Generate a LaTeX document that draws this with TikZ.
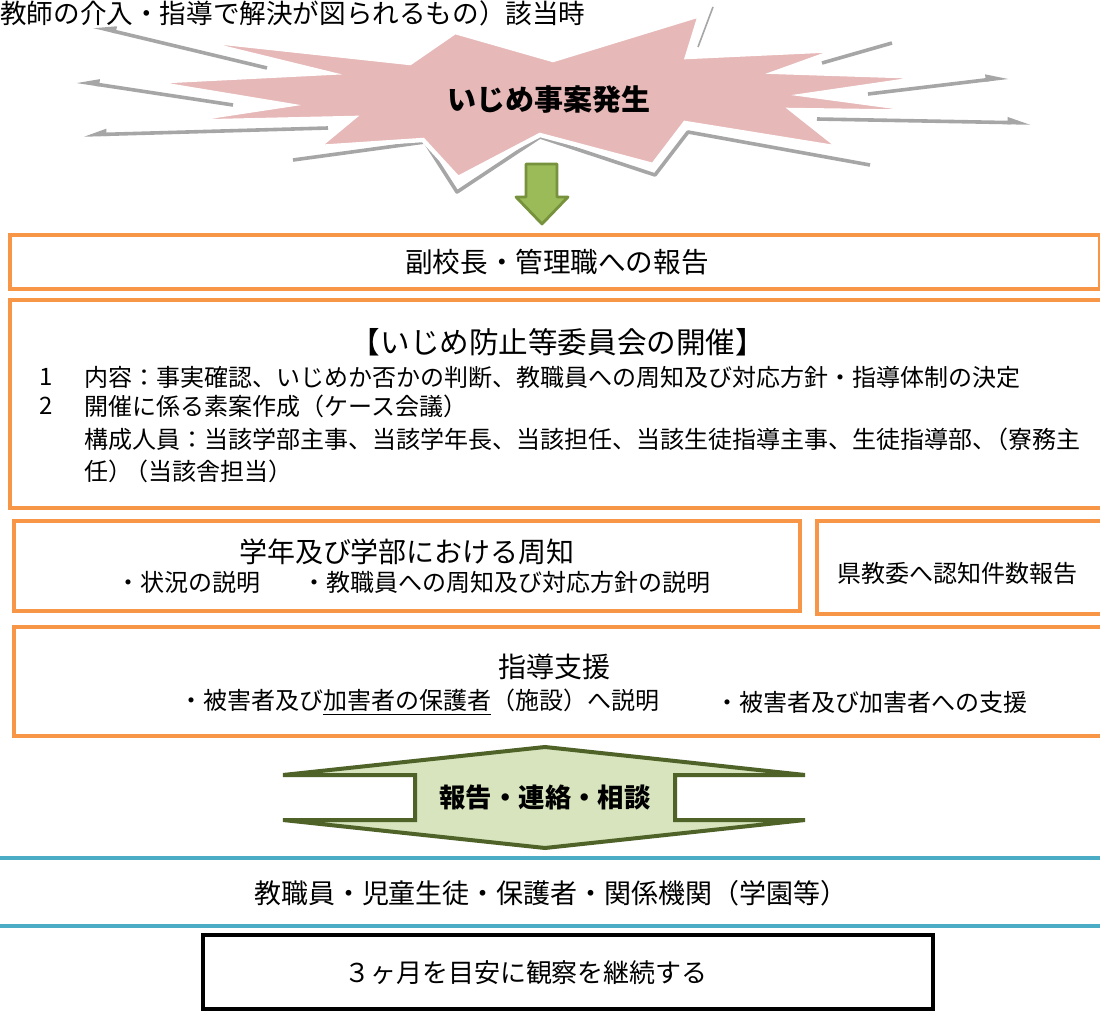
\documentclass[tikz,border=0pt]{standalone}
\usepackage{fontspec}
\setmainfont{Noto Sans CJK JP}
\usetikzlibrary{arrows.meta}
\definecolor{boxorange}{HTML}{F79646}
\definecolor{starpink}{HTML}{E6B8B7}
\definecolor{shadowgray}{HTML}{A6A6A6}
\definecolor{arrowgreen}{HTML}{9BBB59}
\definecolor{arrowedge}{HTML}{76923C}
\definecolor{talkfill}{HTML}{D7E4BD}
\definecolor{talkedge}{HTML}{4F6228}
\definecolor{bandblue}{HTML}{4BACC6}
\newcommand{\fsz}[1]{\fontsize{#1}{#1}\selectfont}

\begin{document}
\begin{tikzpicture}[x=0.5pt, y=-0.5pt,
	obox/.style={draw=boxorange, line width=2pt},
	txt/.style={inner sep=0pt, font=\fsz{12}},
	ttl/.style={inner sep=0pt, font=\fsz{14}},
	ray/.style={draw=shadowgray, line width=1.8pt},
	barbL/.style={-{Triangle[harpoon, swap, length=9pt, width=5pt]}},
	barbR/.style={-{Triangle[harpoon, length=9pt, width=5pt]}},
	band/.style={draw=bandblue, line width=2pt}]
	
		\newcommand{\Wpic}{1100}
		\newcommand{\Hpic}{1011}
		\newcommand{\xR}{1104}
		\newcommand{\xT}{84}
		\newcommand{\xN}{39}
		\useasboundingbox (0,0) rectangle (\Wpic,\Hpic);
		\fill[white] (0,0) rectangle (\Wpic,\Hpic);
		
		\node[inner sep=0pt, anchor=west, font=\fsz{13.3}] (note) at (0,13) {教師の介入・指導で解決が図られるもの）該当時};
		
		% shadow of the star
		\draw[ray, barbL] (267,68) -- (92,26);
		\draw[ray, barbL] (233,105) -- (75,81);
		\draw[ray, barbL] (328,128) -- (82,135);
		\draw[ray, line join=round] (293,160) -- (425,142) -- (457,192) -- (540,137) -- (655,175) -- (688,132) -- (870,165);
		\draw[shadowgray, line width=0.8pt] (698,47) -- (713,7);
		\draw[ray] (822,63) -- (892,43);
		\draw[ray, barbR] (868,94) -- (1010,77);
		\draw[ray, barbR] (817,119) -- (1032,123);
		
	\filldraw[fill=starpink, draw=white, line width=2.2pt, line join=miter] (188,39) -- (410,63) -- (455,32) -- (553,60) -- (700,15) -- (687,57) -- (838,50) -- (777,72) -- (930,77) -- (807,95) -- (933,112) -- (792,110) -- (840,148) -- (685,123) -- (653,165) -- (540,135) -- (458,178) -- (423,140) -- (318,147) -- (353,118) -- (175,122) -- (287,105) -- (148,82) -- (327,73) -- cycle;
	\node[inner sep=0pt, font=\fsz{14.5}\bfseries] (outbreak) at (549,100) {いじめ事案発生};
	
	\filldraw[fill=arrowgreen, draw=arrowedge, line width=1.4pt, line join=round] (526,164) -- (557,164) -- (557,197) -- (568,197) -- (542,224) -- (516,197) -- (526,197) -- cycle;
	
	\draw[obox] (10,235) rectangle (1100,289);
	\node[inner sep=0pt, font=\fsz{13.8}] (report) at (557,262) {副校長・管理職への報告};
	
	\draw[obox] (10,300) rectangle (\xR,508);
	\node[inner sep=0pt, font=\fsz{14.8}] (committee) at (558,342) {【いじめ防止等委員会の開催】};
	\node[txt, anchor=west] (num1) at (\xN,377) {1};
	\node[txt, anchor=west] (item1) at (\xT,377) {内容：事実確認、いじめか否かの判断、教職員への周知及び対応方針・指導体制の決定};
	\node[txt, anchor=west] (num2) at (\xN,406) {2};
	\node[txt, anchor=west] (item2) at (\xT,406) {開催に係る素案作成（ケース会議）};
	\node[txt, anchor=west] (item3) at (\xT,439) {構成人員：当該学部主事、当該学年長、当該担任、当該生徒指導主事、生徒指導部、\kern-6pt（寮務主};
	\node[txt, anchor=west] (item4) at (\xT,471) {任）\kern-4pt（当該舎担当）};
	
	\draw[obox] (14,521) rectangle (800,611);
	\node[ttl] (notice) at (407,552) {学年及び学部における周知};
	\node[txt, anchor=west] (notice1) at (116,582) {・状況の説明};
	\node[txt, anchor=west] (notice2) at (302,582) {・教職員への周知及び対応方針の説明};
	
	\draw[obox] (817,521) rectangle (\xR,614);
	\node[txt] (prefecture) at (957,573) {県教委へ認知件数報告};
	
	\draw[obox] (14,627) rectangle (\xR,736);
	\node[ttl] (support) at (554,667) {指導支援};
	\node[txt, anchor=west] (support1) at (179,702) {・被害者及び\underline{加害者の保護者}（施設）へ説明};
	\node[txt, anchor=west] (support2) at (715,702) {・被害者及び加害者への支援};
	
	\filldraw[fill=talkfill, draw=talkedge, line width=2pt] (545,747) -- (805,775) -- (675,775) -- (675,820) -- (805,820) -- (545,848) -- (283,820) -- (415,820) -- (415,775) -- (283,775) -- cycle;
	\node[inner sep=0pt, font=\fsz{13.2}\bfseries] (talk) at (545,797) {報告・連絡・相談};
	
	\draw[band] (0,858) -- (\Wpic,858);
	\draw[band] (0,926) -- (\Wpic,926);
	\node[inner sep=0pt, font=\fsz{13.5}] (parties) at (551,893) {教職員・児童生徒・保護者・関係機関（学園等）};
	
	\draw[line width=2pt] (203,935) rectangle (933,1009);
	\node[inner sep=0pt, font=\fsz{13}] (watch) at (526,973) {３ヶ月を目安に観察を継続する};
	
\end{tikzpicture}
\end{document}
